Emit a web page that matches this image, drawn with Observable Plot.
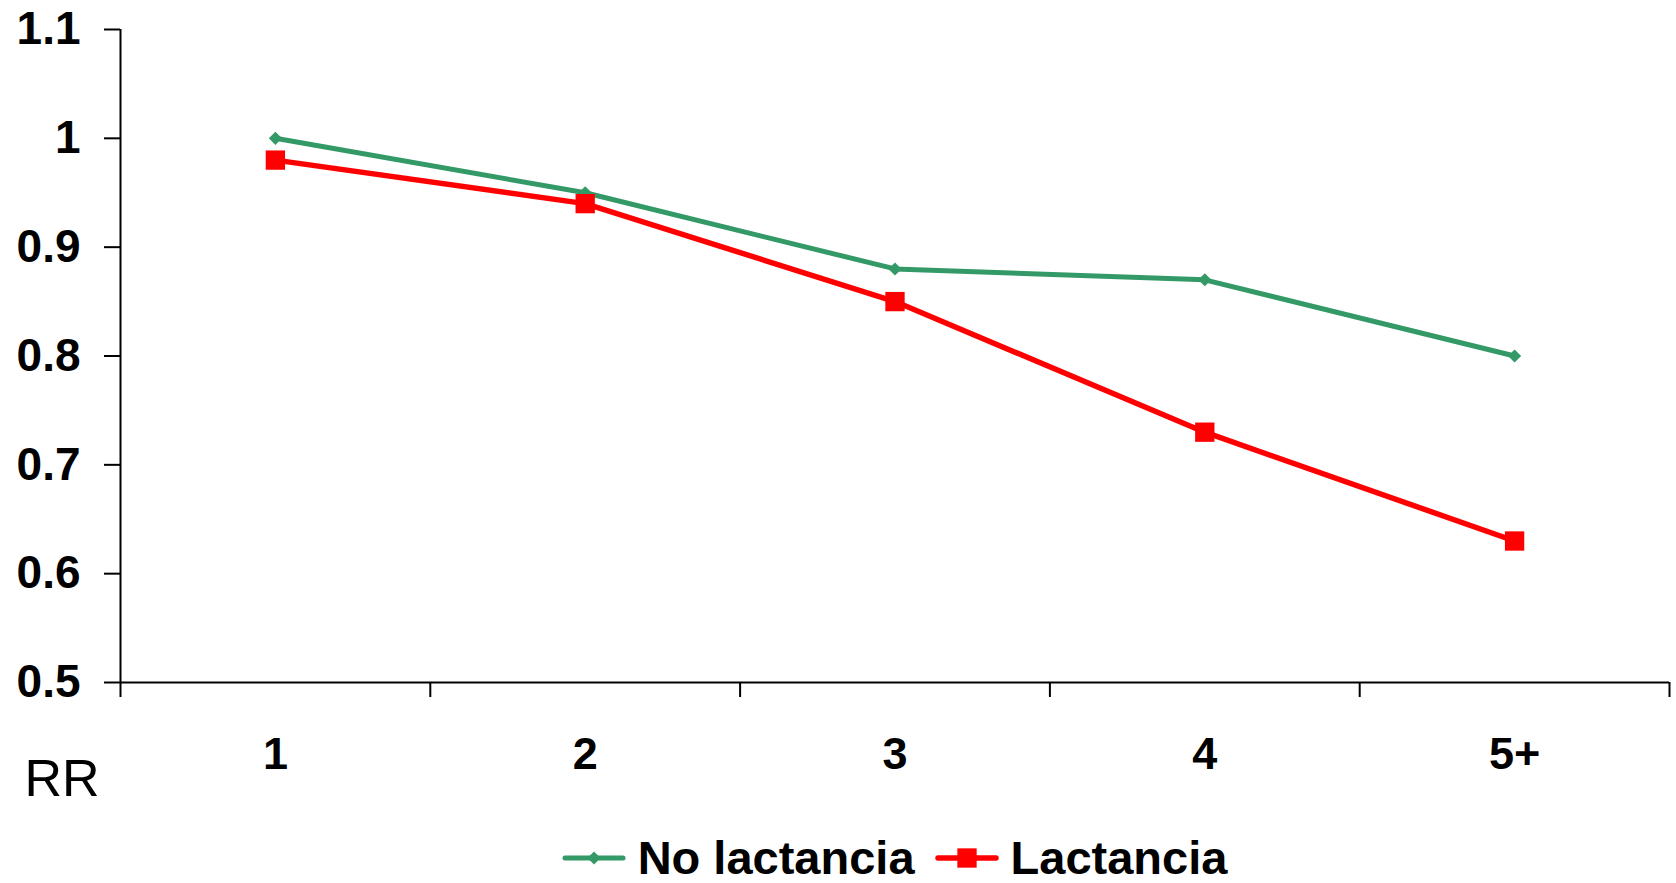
<!DOCTYPE html>
<html>
<head>
<meta charset="utf-8">
<script src="https://cdn.jsdelivr.net/npm/d3@7"></script>
<script src="https://cdn.jsdelivr.net/npm/@observablehq/plot@0.6"></script>
<style>
  html, body { margin: 0; padding: 0; background: #fff; }
  body { width: 1676px; height: 883px; position: relative; overflow: hidden; font-family: "Liberation Sans", Arial, sans-serif; }
  #legend { position: absolute; left: 120px; top: 832px; width: 1549px; height: 51px; display: flex; justify-content: center; align-items: center; font-weight: bold; font-size: 47px; color: #000; }
  .item { display: flex; align-items: center; }
  .item + .item { margin-left: 20px; }
  .item span { margin-left: 12px; }
</style>
</head>
<body>
<div id="chart"></div>
<div id="legend"></div>
<script>
const categories = ["1", "2", "3", "4", "5+"];
const noLactancia = [1.0, 0.95, 0.88, 0.87, 0.80];
const lactancia = [0.98, 0.94, 0.85, 0.73, 0.63];
const yTicks = [0.5, 0.6, 0.7, 0.8, 0.9, 1, 1.1];
const seriesNames = ["No lactancia", "Lactancia"];
const seriesColors = ["#339966", "#FF0000"];
const axisTitle = "RR";

const greenData = categories.map((c, i) => ({series: seriesNames[0], idx: i + 1, cat: c, value: noLactancia[i]}));
const redData = categories.map((c, i) => ({series: seriesNames[1], idx: i + 1, cat: c, value: lactancia[i]}));
const boundaries = d3.range(0, categories.length + 1).map(i => i + 0.5);
const centers = categories.map((c, i) => i + 1);

const chart = Plot.plot({
  width: 1676,
  height: 826,
  marginLeft: 120,
  marginRight: 7,
  marginTop: 29,
  marginBottom: 144,
  style: {fontFamily: "'Liberation Sans', Arial, sans-serif", color: "#000", background: "#fff"},
  x: {type: "linear", domain: [0.5, categories.length + 0.5]},
  y: {domain: [0.5, 1.1]},
  marks: [
    Plot.ruleY([0.5], {stroke: "#000", strokeWidth: 2}),
    Plot.ruleX([0.5], {y1: 0.5, y2: 1.1, stroke: "#000", strokeWidth: 2}),
    Plot.axisY({ticks: yTicks, tickSize: 16, tickPadding: 24, tickFormat: d => String(d), fontSize: 46, fontWeight: "bold", strokeWidth: 2, label: null}),
    Plot.axisX({ticks: boundaries, tickSize: 15, tickFormat: () => "", strokeWidth: 2, label: null}),
    Plot.axisX({ticks: centers, tickSize: 0, tickPadding: 55, tickFormat: i => categories[i - 1], fontSize: 45, fontWeight: "bold", label: null}),
    Plot.line(greenData, {x: "idx", y: "value", stroke: seriesColors[0], strokeWidth: 5}),
    Plot.line(redData, {x: "idx", y: "value", stroke: seriesColors[1], strokeWidth: 5.5}),
    Plot.dot(greenData, {x: "idx", y: "value", symbol: "diamond2", r: 5.9, fill: seriesColors[0], stroke: null}),
    Plot.dot(redData, {x: "idx", y: "value", symbol: "square", r: 10.9, fill: seriesColors[1], stroke: null}),
    Plot.text([axisTitle], {frameAnchor: "bottom-left", dx: -96, dy: 113, text: d => d, textAnchor: "start", lineAnchor: "bottom", fontSize: 52, fill: "#000"})
  ]
});
document.getElementById("chart").appendChild(chart);

// Legend
const legend = d3.select("#legend");
const symbols = [d3.symbolDiamond2, d3.symbolSquare];
const symSizes = [Math.PI * 5.9 * 5.9, Math.PI * 10.9 * 10.9];
const widths = [5, 5.5];
seriesNames.forEach((name, k) => {
  const item = legend.append("div").attr("class", "item");
  const svg = item.append("svg").attr("width", 64).attr("height", 24);
  svg.append("line").attr("x1", 3).attr("x2", 61).attr("y1", 12).attr("y2", 12)
    .attr("stroke", seriesColors[k]).attr("stroke-width", widths[k]).attr("stroke-linecap", "round");
  svg.append("path").attr("d", d3.symbol(symbols[k], symSizes[k])()).attr("transform", "translate(32,12)")
    .attr("fill", seriesColors[k]);
  item.append("span").text(name);
});
</script>
</body>
</html>
